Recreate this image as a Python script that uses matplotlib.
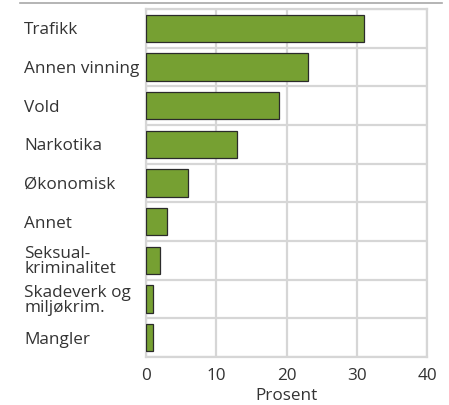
import matplotlib
matplotlib.use("Agg")
import matplotlib.pyplot as plt
import numpy as np

categories = ["Trafikk", "Annen vinning", "Vold", "Narkotika", "Økonomisk",
              "Annet", "Seksual-\nkriminalitet", "Skadeverk og\nmiljøkrim.", "Mangler"]
values = [31, 23, 19, 13, 6, 3, 2, 1, 1]
xticks = [0, 10, 20, 30, 40]
xlabel = "Prosent"

plt.rcParams['font.family'] = ['Open Sans', 'DejaVu Sans']

fs = 12.3
fig = plt.figure(figsize=(4.49, 4.05), dpi=100)
ax = fig.add_axes([146/449, 1-357/405, (427-146)/449, (357-9)/405])

y = np.arange(len(categories))
ax.barh(y, values, height=0.7, color="#76a032", edgecolor="#2b2b2b", linewidth=0.9, zorder=3)
ax.set_ylim(len(categories)-0.5, -0.5)
ax.set_xlim(0, 40)
ax.set_xticks(xticks)
ax.set_xticklabels([str(t) for t in xticks], fontsize=fs, color="#333333")
ax.set_yticks(y)
ax.set_yticklabels(categories, fontsize=fs, color="#333333", ha="left", linespacing=0.92)
ax.tick_params(axis="y", length=0, pad=(146-24)*0.72)
ax.tick_params(axis="x", length=0, pad=8)
ax.set_yticks(np.arange(-0.5, len(categories), 1), minor=True)
ax.tick_params(axis="y", which="minor", length=0)
ax.grid(True, which="minor", axis="y", color="#d6d6d6", linewidth=1.6, zorder=0)
ax.grid(True, which="major", axis="x", color="#d6d6d6", linewidth=1.6, zorder=0)
ax.grid(False, which="major", axis="y")
for s in ax.spines.values():
    s.set_color("#d6d6d6")
    s.set_linewidth(1.6)
ax.set_xlabel(xlabel, fontsize=fs, color="#333333", labelpad=2.5)

fig.add_artist(plt.Line2D([20/449, 442/449], [1-3/405, 1-3/405], color="#a8a8a8", linewidth=1.2))

fig.savefig("out.png", dpi=100)
